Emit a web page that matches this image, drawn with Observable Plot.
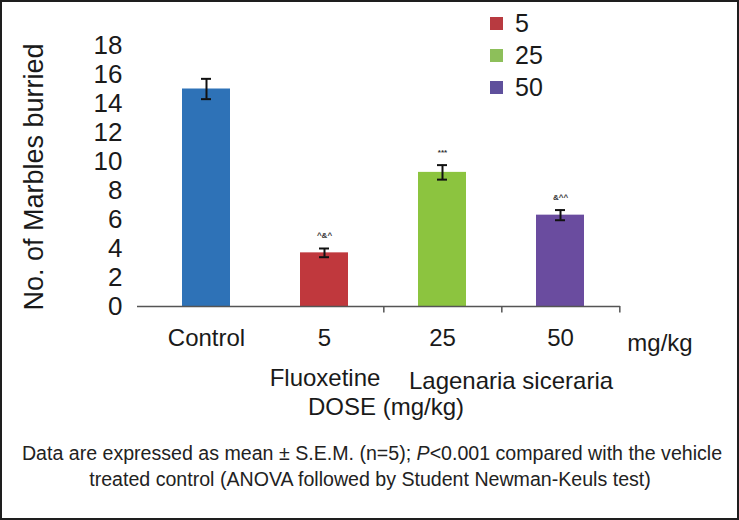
<!DOCTYPE html>
<html>
<head>
<meta charset="utf-8">
<script src="https://cdn.jsdelivr.net/npm/d3@7"></script>
<script src="https://cdn.jsdelivr.net/npm/@observablehq/plot@0.6"></script>
<style>
  html, body { margin: 0; padding: 0; background: #fff; }
  #wrap { position: relative; width: 739px; height: 520px; font-family: "Liberation Sans", Arial, sans-serif; color: #1a1a1a; overflow: hidden; }
  #frame { position: absolute; left: 0; top: 0; width: 739px; height: 520px; box-sizing: border-box; border: 2px solid #1e1e1e; pointer-events: none; }
  .abs { position: absolute; white-space: nowrap; line-height: 1; }
  .ctr { transform: translate(-50%, -50%); }
  #legend .item { position: absolute; left: 490px; height: 0; }
  #legend .sw { position: absolute; left: 0; top: -6.5px; width: 13px; height: 13px; }
  #legend .lb { position: absolute; left: 25px; top: 0; transform: translateY(-50%); font-size: 25px; line-height: 1; }
</style>
</head>
<body>
<div id="wrap">
  <div id="chart" class="abs" style="left:0;top:0"></div>
  <div class="abs ctr" style="left:34px;top:177px;font-size:27px;transform:translate(-50%,-50%) rotate(-90deg)">No. of Marbles burried</div>
  <div id="legend"></div>
  <div class="abs ctr" style="left:660px;top:343px;font-size:24px">mg/kg</div>
  <div class="abs ctr" style="left:325px;top:378px;font-size:24px">Fluoxetine</div>
  <div class="abs ctr" style="left:511px;top:381px;font-size:24px">Lagenaria siceraria</div>
  <div class="abs ctr" style="left:386px;top:407px;font-size:24px">DOSE (mg/kg)</div>
  <div class="abs ctr" style="left:372px;top:454px;font-size:19.6px;color:#222">Data are expressed as mean ± S.E.M. (n=5); <i>P</i>&lt;0.001 compared with the vehicle</div>
  <div class="abs ctr" style="left:370px;top:480px;font-size:19.6px;color:#222">treated control (ANOVA followed by Student Newman-Keuls test)</div>
  <div id="frame"></div>
</div>
<script>
const categories = ["Control", "5", "25", "50"];
const means = [15.0, 3.7, 9.25, 6.3];
const sems = [0.7, 0.3, 0.5, 0.35];
const annotations = ["", "^&^", "***", "&^^"];
const barColors = ["#2e72b7", "#c0383d", "#8cc43f", "#6a4c9f"];
const yTicks = [0, 2, 4, 6, 8, 10, 12, 14, 16, 18];
const legendLabels = ["5", "25", "50"];
const legendColors = ["#b83a40", "#8dbf5a", "#5f509c"];
const boundaryTicks = ["5", "25", "50"];

const data = categories.map((c, i) => ({cat: c, mean: means[i], sem: sems[i], note: annotations[i], color: barColors[i]}));

const W = 739, H = 360, mL = 146, mR = 119, mT = 45, mB = 54;
const pIn = 0.595, pOut = 0.295;
const step = (W - mL - mR) / (categories.length - pIn + 2 * pOut);

const chart = Plot.plot({
  width: W, height: H,
  marginLeft: mL, marginRight: mR, marginTop: mT, marginBottom: mB,
  style: {fontFamily: "Liberation Sans, Arial, sans-serif", background: "transparent", color: "#1a1a1a", overflow: "visible"},
  x: {domain: categories, paddingInner: pIn, paddingOuter: pOut, axis: null},
  y: {domain: [0, 18], axis: null},
  marks: [
    Plot.barY(data, {x: "cat", y: "mean", fill: "color"}),
    Plot.ruleX(data, {x: "cat", y1: d => d.mean - d.sem, y2: d => d.mean + d.sem, stroke: "#111", strokeWidth: 2}),
    Plot.tickY(data, {x: "cat", y: d => d.mean + d.sem, stroke: "#111", strokeWidth: 2, insetLeft: 19, insetRight: 19}),
    Plot.tickY(data, {x: "cat", y: d => d.mean - d.sem, stroke: "#111", strokeWidth: 2, insetLeft: 19, insetRight: 19}),
    Plot.text(data, {x: "cat", y: d => d.mean + d.sem, text: "note", dy: -13, fontSize: 8, fontWeight: "bold", fill: "#333"}),
    Plot.ruleY([0], {stroke: "#555", strokeWidth: 1.5, insetLeft: -9}),
    Plot.ruleX(boundaryTicks, {x: d => d, y1: 0, y2: -0.45, dx: step / 2, stroke: "#555", strokeWidth: 1.5}),
    Plot.axisY({ticks: yTicks, tickSize: 0, tickPadding: 24, fontSize: 26, label: null}),
    Plot.axisX({tickSize: 0, tickPadding: 22, fontSize: 24, label: null})
  ]
});
document.getElementById("chart").appendChild(chart);

const legend = document.getElementById("legend");
const legendY = [23, 55, 87];
legendLabels.forEach((l, i) => {
  const item = document.createElement("div");
  item.className = "item";
  item.style.top = legendY[i] + "px";
  item.innerHTML = `<div class="sw" style="background:${legendColors[i]}"></div><div class="lb">${l}</div>`;
  legend.appendChild(item);
});
</script>
</body>
</html>
